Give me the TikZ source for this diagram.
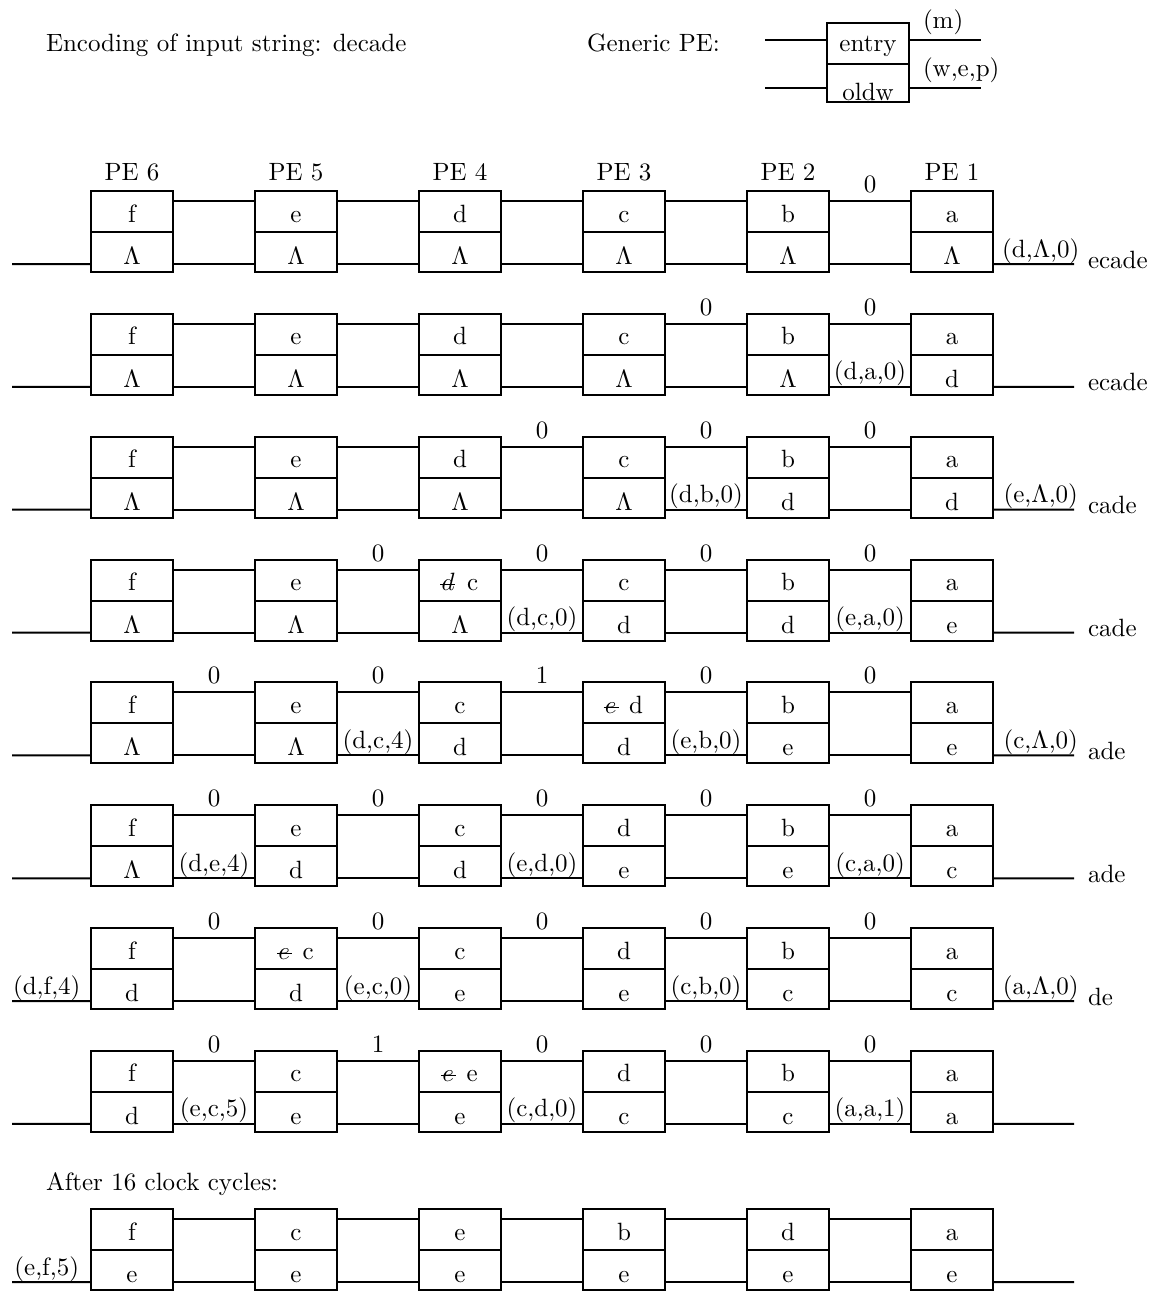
\documentclass[tikz,border=0pt]{standalone}
\usetikzlibrary{positioning}

\newcommand{\crossed}[1]{\mbox{\rlap{\kern-0.05em\raisebox{0.22em}{\rule{0.6em}{0.4pt}}}$#1$}}

% one row of six PEs: #1 row name, #2 top edge (px), #3 entries PE6..PE1
\newcommand{\perow}[3]{%
  \foreach \hi/\lo [count=\cc] in {#3} {
    \pgfmathtruncatemacro{\pp}{7-\cc}
    \node[pehi] (#1p\pp t) at ({132+164*(\cc-1)}, {#2+20.5}) {\hi};
    \node[pelo, below=0pt of #1p\pp t] (#1p\pp b) {\lo};
  }
  \foreach \pp in {6,...,2} {
    \pgfmathtruncatemacro{\qq}{\pp-1}
    \draw ([yshift=-4pt]#1p\pp t.north east) -- coordinate[midway] (#1u\pp) ([yshift=-4pt]#1p\qq t.north west);
    \draw ([yshift=3.2pt]#1p\pp b.south east) -- coordinate[midway] (#1d\pp) ([yshift=3.2pt]#1p\qq b.south west);
  }
  \coordinate (#1in) at (12, #2+73);
  \coordinate (#1out) at (1074, #2+73);
  \draw (#1in) -- coordinate[pos=0.44] (#1d7) ([yshift=3.2pt]#1p6b.south west);
  \draw ([yshift=3.2pt]#1p1b.south east) -- coordinate[pos=0.59] (#1d1) (#1out);
}

\begin{document}
\begin{tikzpicture}[x=0.4pt, y=-0.4pt, line width=0.8pt,
    pehi/.style={draw, minimum width=32.8pt, minimum height=16.4pt, inner sep=0pt, outer sep=0pt, text height=8.4pt, text depth=0pt},
    pelo/.style={draw, minimum width=32.8pt, minimum height=16pt, inner sep=0pt, outer sep=0pt, text height=10pt, text depth=0pt},
    genhi/.style={draw, minimum width=32.8pt, minimum height=16.4pt, inner sep=0pt, outer sep=0pt, text height=6.8pt, text depth=0pt},
    genlo/.style={draw, minimum width=32.8pt, minimum height=15.2pt, inner sep=0pt, outer sep=0pt, text height=13.6pt, text depth=0pt},
    zlab/.style={anchor=base, inner sep=0pt, yshift=3.4pt},
    wlab/.style={anchor=base, inner sep=0pt, yshift=2.8pt},
    tail/.style={anchor=base west, inner sep=0pt, xshift=5.2pt, yshift=-1.6pt},
    txt/.style={anchor=base west, inner sep=0pt}]
  \useasboundingbox (0,0) rectangle (1160,1299);

  % header
  \node[txt] (enc) at (45,52) {Encoding of input string: decade};
  \node[txt] (gen) at (586,52) {Generic PE:};
  \node[genhi] (gt) at (868,43.5) {entry};
  \node[genlo, below=0pt of gt] (gb) {oldw};
  \coordinate (gi1) at (765,40);
  \coordinate (gi2) at (765,88);
  \coordinate (go1) at (981,40);
  \coordinate (go2) at (981,88);
  \draw (gi1) -- (gi1 -| gt.west);
  \draw (gi2) -- (gi2 -| gb.west);
  \draw (gt.east |- go1) -- (go1);
  \draw (gb.east |- go2) -- (go2);
  \node[txt] (gm) at (922,29) {(m)};
  \node[txt] (gwep) at (922,77) {(w,e,p)};

  % row 1
  \perow{r1}{191}{f/$\Lambda$, e/$\Lambda$, d/$\Lambda$, c/$\Lambda$, b/$\Lambda$, a/$\Lambda$}
  \foreach \pp in {1,...,6}
    \node[inner sep=0pt, above=3.6pt of r1p\pp t] (pe\pp) {PE \pp};
  \node[zlab] (r1z2) at (r1u2) {0};
  \node[wlab] (r1w1) at (r1d1) {(d,$\Lambda$,0)};
  \node[tail] (r1s) at (r1out) {ecade};

  % row 2
  \perow{r2}{313.85}{f/$\Lambda$, e/$\Lambda$, d/$\Lambda$, c/$\Lambda$, b/$\Lambda$, a/d}
  \foreach \pp in {3,2}
    \node[zlab] (r2z\pp) at (r2u\pp) {0};
  \node[wlab] (r2w2) at (r2d2) {(d,a,0)};
  \node[tail] (r2s) at (r2out) {ecade};

  % row 3
  \perow{r3}{436.7}{f/$\Lambda$, e/$\Lambda$, d/$\Lambda$, c/$\Lambda$, b/d, a/d}
  \foreach \pp in {4,3,2}
    \node[zlab] (r3z\pp) at (r3u\pp) {0};
  \node[wlab] (r3w3) at (r3d3) {(d,b,0)};
  \node[wlab] (r3w1) at (r3d1) {(e,$\Lambda$,0)};
  \node[tail] (r3s) at (r3out) {cade};

  % row 4
  \perow{r4}{559.55}{f/$\Lambda$, e/$\Lambda$, \crossed{d}\ \,c/$\Lambda$, c/d, b/d, a/e}
  \foreach \pp in {5,4,3,2}
    \node[zlab] (r4z\pp) at (r4u\pp) {0};
  \node[wlab] (r4w4) at (r4d4) {(d,c,0)};
  \node[wlab] (r4w2) at (r4d2) {(e,a,0)};
  \node[tail] (r4s) at (r4out) {cade};

  % row 5
  \perow{r5}{682.4}{f/$\Lambda$, e/$\Lambda$, c/d, \crossed{e}\ \,d/d, b/e, a/e}
  \foreach \pp/\zz in {6/0, 5/0, 4/1, 3/0, 2/0}
    \node[zlab] (r5z\pp) at (r5u\pp) {\zz};
  \node[wlab] (r5w5) at (r5d5) {(d,c,4)};
  \node[wlab] (r5w3) at (r5d3) {(e,b,0)};
  \node[wlab] (r5w1) at (r5d1) {(c,$\Lambda$,0)};
  \node[tail] (r5s) at (r5out) {ade};

  % row 6
  \perow{r6}{805.25}{f/$\Lambda$, e/d, c/d, d/e, b/e, a/c}
  \foreach \pp in {6,...,2}
    \node[zlab] (r6z\pp) at (r6u\pp) {0};
  \node[wlab] (r6w6) at (r6d6) {(d,e,4)};
  \node[wlab] (r6w4) at (r6d4) {(e,d,0)};
  \node[wlab] (r6w2) at (r6d2) {(c,a,0)};
  \node[tail] (r6s) at (r6out) {ade};

  % row 7
  \perow{r7}{928.1}{f/d, \crossed{e}\ \,c/d, c/e, d/e, b/c, a/c}
  \foreach \pp in {6,...,2}
    \node[zlab] (r7z\pp) at (r7u\pp) {0};
  \node[wlab] (r7w7) at (r7d7) {(d,f,4)};
  \node[wlab] (r7w5) at (r7d5) {(e,c,0)};
  \node[wlab] (r7w3) at (r7d3) {(c,b,0)};
  \node[wlab] (r7w1) at (r7d1) {(a,$\Lambda$,0)};
  \node[tail] (r7s) at (r7out) {de};

  % row 8
  \perow{r8}{1050.95}{f/d, c/e, \crossed{e}\ \,e/e, d/c, b/c, a/a}
  \foreach \pp/\zz in {6/0, 5/1, 4/0, 3/0, 2/0}
    \node[zlab] (r8z\pp) at (r8u\pp) {\zz};
  \node[wlab] (r8w6) at (r8d6) {(e,c,5)};
  \node[wlab] (r8w4) at (r8d4) {(c,d,0)};
  \node[wlab] (r8w2) at (r8d2) {(a,a,1)};

  % final state
  \node[txt] (after) at (45,1190) {After 16 clock cycles:};
  \perow{r9}{1209}{f/e, c/e, e/e, b/e, d/e, a/e}
  \node[wlab] (r9w7) at (r9d7) {(e,f,5)};
\end{tikzpicture}
\end{document}
